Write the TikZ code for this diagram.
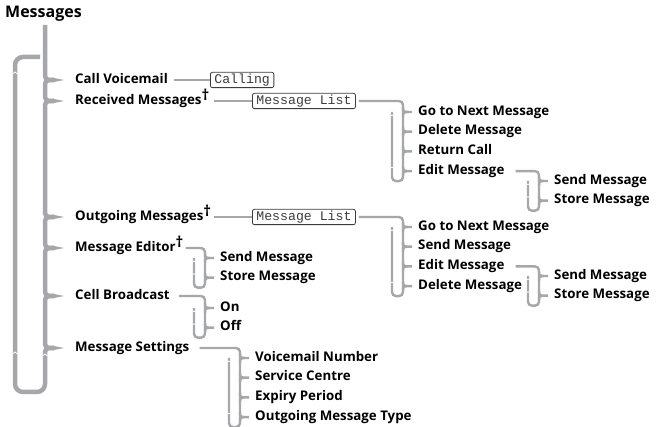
\documentclass[tikz,border=0pt]{standalone}
\usepackage{fontspec}
\setmainfont{Open Sans}
\setmonofont{Liberation Mono}
\usetikzlibrary{positioning,calc}
\definecolor{brk}{RGB}{165,167,170}
\definecolor{lcd}{RGB}{60,60,60}
\newcommand{\dg}{\raisebox{4pt}{\fontsize{15}{15}\selectfont †}}

\begin{document}
\begin{tikzpicture}[x=1pt, y=1pt,
  item/.style={anchor=west, inner sep=0pt, text height=9.5pt, text depth=3pt, font=\bfseries\fontsize{13.3}{15}\selectfont},
  sib/.style={below=19.7pt of #1.west, anchor=west},
  lcdbox/.style={draw=lcd, rounded corners=2pt, line width=0.8pt, inner xsep=4pt, inner ysep=1.5pt, minimum height=15pt, font=\ttfamily\fontsize{13.2}{13}\selectfont, text=lcd, anchor=west},
  trunk/.style={draw=brk, line width=4.5pt},
  sub/.style={draw=brk, line width=2.4pt},
  notch/.style={draw=white, line width=0.7pt}]
\useasboundingbox (0,0) rectangle (662,-427);
% main menu
\node[item, font=\bfseries\fontsize{16}{18}\selectfont] (msg) at (5,-14) {Messages};
\node[item] (cv) at (75,-80) {Call Voicemail};
\node[item] (rm) at (75,-101) {Received Messages\dg};
\node[item] (om) at (75,-217) {Outgoing Messages\dg};
\node[item] (me) at (75,-248) {Message Editor\dg};
\node[item] (cb) at (75,-296) {Cell Broadcast};
\node[item] (ms) at (75,-348) {Message Settings};
% display boxes
\node[lcdbox] (cvbox) at (210,-80) {Calling};
\node[lcdbox] (rmbox) at (252,-101) {Message List};
\node[lcdbox] (ombox) at (252,-217) {Message List};
% received messages
\node[item] (r1) at (418,-112) {Go to Next Message};
\node[item, sib=r1] (r2) {Delete Message};
\node[item, sib=r2] (r3) {Return Call};
\node[item, sib=r3] (r4) {Edit Message};
\node[item] (re1) at (554,-181) {Send Message};
\node[item, sib=re1] (re2) {Store Message};
% outgoing messages
\node[item] (o1) at (418,-227) {Go to Next Message};
\node[item, sib=o1] (o2) {Send Message};
\node[item, sib=o2] (o3) {Edit Message};
\node[item, sib=o3] (o4) {Delete Message};
\node[item] (oe1) at (554,-276) {Send Message};
\node[item, sib=oe1] (oe2) {Store Message};
% editor, broadcast, settings
\node[item] (e1) at (220,-258) {Send Message};
\node[item, sib=e1] (e2) {Store Message};
\node[item] (c1) at (220,-308) {On};
\node[item, sib=c1] (c2) {Off};
\node[item] (s1) at (255,-358) {Voicemail Number};
\node[item, sib=s1] (s2) {Service Centre};
\node[item, sib=s2] (s3) {Expiry Period};
\node[item, sib=s3] (s4) {Outgoing Message Type};
% trunk
\coordinate (tr) at (45,-25);
\draw[trunk] (tr) -- ($(tr |- cv.west)+(0,9)$) .. controls (tr |- cv.west) .. ($(cv.west)+(-21,0)$);
\foreach \a/\b in {cv/rm, rm/om, om/me, me/cb, cb/ms}
  \draw[trunk] ($(\a.west)+(-21,0)$) .. controls (tr |- \a.west) .. ($(tr |- \a.west)+(0,-9)$)
    -- ($(tr |- \b.west)+(0,9)$) .. controls (tr |- \b.west) .. ($(\b.west)+(-21,0)$);
\draw[trunk] ($(ms.west)+(-21,0)$) .. controls (tr |- ms.west) .. ($(tr |- ms.west)+(0,-9)$);
\draw[trunk, rounded corners=8pt] ($(tr |- ms.west)+(0,-9)$) -- (45,-392) -- (15,-392) -- (15,-57) -- (40,-57);
\foreach \b in {cv,rm,om,me,cb,ms}
  \fill[brk] ($(\b.west)+(-22,2.25)$) -- ($(\b.west)+(-11,0)$) -- ($(\b.west)+(-22,-2.25)$) -- cycle;
\foreach \x/\y in {15/72, 15/352, 45/354}
  \draw[notch] (\x-2.5,-\y-2) -- (\x,-\y) -- (\x+2.5,-\y-2);
% sub menus
\draw[sub] ([xshift=6pt]cv.east) -- (cvbox);
\draw[sub] ([xshift=5pt]rm.east) -- (rmbox);
\draw[sub] ([xshift=3pt]om.east) -- (ombox);
\foreach \p/\g/\f/\l in {rmbox/3/r1/r4, ombox/3/o1/o4, r4/11/re1/re2, o3/11/oe1/oe2, me/2/e1/e2, cb/9/c1/c2, ms/10/s1/s4}{
  \draw[sub, rounded corners=4pt] ([xshift=\g pt]\p.east) -| ($(\l.west)+(-15,-10)$) -| ($(\f.west)+(-26,0)$);
  \draw[notch] ($(\f.west)+(-27.5,-4)$) -- ($(\f.west)+(-26,-3)$) -- ($(\f.west)+(-24.5,-4)$);
  \draw[notch] ($(\l.west)+(-27.5,3)$) -- ($(\l.west)+(-26,4)$) -- ($(\l.west)+(-24.5,3)$);
}
\foreach \c in {r1,r2,r3,r4,re1,re2,o1,o2,o3,o4,oe1,oe2,e1,e2,c1,c2,s1,s2,s3,s4}
  \draw[sub] ($(\c.west)+(-15,5)$) .. controls ($(\c.west)+(-15,0)$) .. ($(\c.west)+(-6,0)$)
    .. controls ($(\c.west)+(-15,0)$) .. ($(\c.west)+(-15,-5)$);
\end{tikzpicture}
\end{document}
